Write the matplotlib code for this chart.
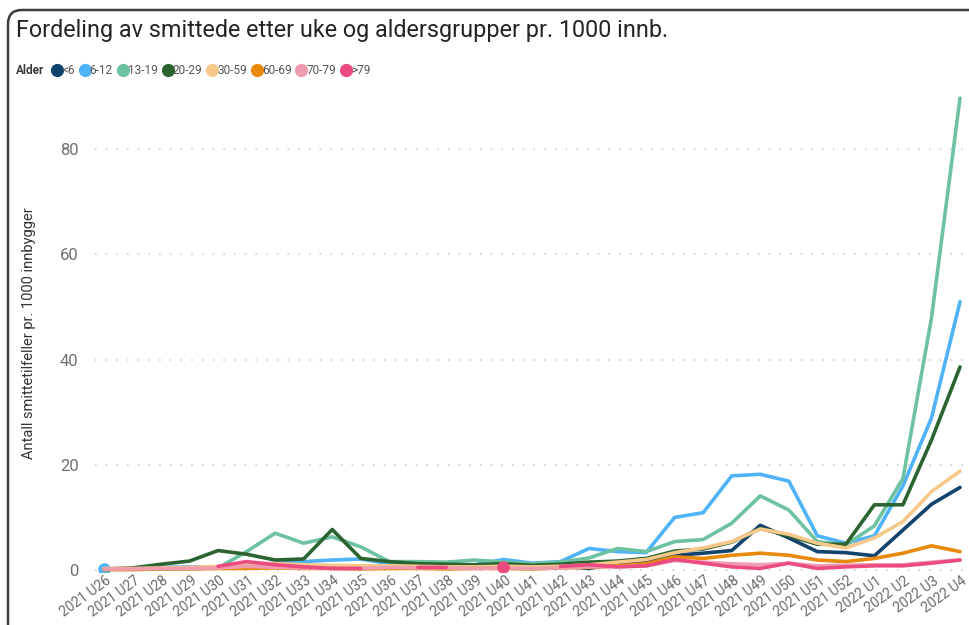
import numpy as np
import matplotlib.pyplot as plt
from matplotlib.patches import FancyBboxPatch
from matplotlib.transforms import ScaledTranslation

plt.rcParams['font.family'] = ['Roboto', 'DejaVu Sans']

weeks = ['2021 U%d' % w for w in range(26, 53)] + ['2022 U%d' % w for w in range(1, 5)]
nan = np.nan

groups = ['<6', '6-12', '13-19', '20-29', '30-59', '60-69', '70-79', '>79']
colors = ['#12436D', '#4FB3F8', '#6DC2A0', '#2B6331', '#F6C88A', '#E8890C', '#EF9BB0', '#EC4B80']

u6 = [0.2, 0.2, 0.3, 0.4, 0.5, 0.8, 0.8, 0.7, 0.6, 0.8, 0.7, 0.6, 0.8, 0.9, 1.0, 0.6,
      0.8, 0.3, 1.2, 1.6, 2.8, 3.2, 3.7, 8.5, 6.1, 3.5, 3.3, 2.7, 7.6, 12.5, 15.7]
a6_12 = [0.2, nan, 0.5, 0.6, 0.6, 0.9, 1.3, 1.6, 1.9, 2.1, 1.2, 1.0, 0.9, 1.0, 2.0, 1.3,
         1.6, 4.1, 3.5, 3.3, 10.0, 10.9, 17.9, 18.2, 16.9, 6.5, 5.1, 6.5, 16.0, 28.9, 51.0]
a13_19 = [0.1, 0.1, 0.2, 0.3, 0.4, 3.5, 7.0, 5.1, 6.3, 4.4, 1.6, 1.6, 1.5, 1.9, 1.5, 1.2,
          1.5, 2.3, 4.1, 3.5, 5.4, 5.8, 8.9, 14.1, 11.4, 5.4, 4.8, 8.4, 17.4, 47.9, 89.7]
a20_29 = [0.2, 0.4, 1.1, 1.7, 3.7, 3.0, 1.9, 2.1, 7.7, 2.2, 1.6, 1.2, 1.1, 1.0, 1.2, 0.9,
          1.1, 1.5, 1.7, 2.2, 3.6, 4.0, 5.3, 7.9, 6.5, 4.9, 4.9, 12.4, 12.4, 24.7, 38.6]
a30_59 = [0.3, 0.3, 0.4, 0.5, 0.7, 1.3, 1.2, 1.0, 0.9, 0.8, 0.8, 0.7, 0.6, 0.6, 0.7, 0.6,
          0.7, 1.0, 1.5, 2.0, 3.3, 4.2, 5.4, 7.8, 6.8, 5.1, 4.2, 6.1, 9.2, 14.9, 18.8]
a60_69 = [0.1, 0.1, 0.2, 0.2, 0.3, 0.3, 0.4, 0.3, 0.3, 0.2, 0.3, 0.3, 0.2, 0.3, 0.3, 0.2,
          0.4, 0.5, 0.8, 1.2, 2.5, 2.2, 2.8, 3.2, 2.8, 1.9, 1.6, 2.2, 3.2, 4.6, 3.5]
a70_79 = [0.2, 0.2, 0.3, 0.3, 0.4, 0.7, 0.5, 0.4, 0.3, 0.3, 0.5, 0.4, 0.4, 0.3, 0.4, 0.3,
          0.4, 0.6, 0.6, 0.8, 1.8, 1.5, 1.2, 1.0, 1.3, 0.8, 0.9, 1.0, 1.0, 1.5, 1.9]
a79 = [nan, nan, nan, nan, 0.7, 1.6, 1.0, 0.6, 0.3, 0.3, nan, 0.5, 0.5, nan, 0.6, nan,
       0.7, 1.0, 0.6, 0.8, 2.0, 1.3, 0.6, 0.3, 1.3, 0.3, 0.6, 0.8, 0.8, 1.3, 1.9]

series = [u6, a6_12, a13_19, a20_29, a30_59, a60_69, a70_79, a79]

fig = plt.figure(figsize=(9.7, 6.25), dpi=100)

# background layer in pixel coordinates
bg = fig.add_axes([0, 0, 1, 1])
bg.set_xlim(0, 970)
bg.set_ylim(625, 0)
bg.axis('off')
bg.add_patch(FancyBboxPatch((8, 10), 1100, 800, boxstyle='round,pad=0,rounding_size=14',
                            fill=False, ec='#3c3c3c', lw=1.8))
bg.text(16, 31, 'Fordeling av smittede etter uke og aldersgrupper pr. 1000 innb.',
        fontsize=16.8, color='#252423', va='center', ha='left')

# legend row
renderer = fig.canvas.get_renderer()
t = bg.text(16, 70, 'Alder', fontsize=8.5, fontweight='bold', color='#3a3a3a', va='center')
cursor = t.get_window_extent(renderer).x1 + 13
for g, c in zip(groups, colors):
    bg.plot(cursor, 70, 'o', ms=8.5, color=c)
    t = bg.text(cursor + 5, 70.5, g, fontsize=8.5, color='#555555', va='center')
    cursor = t.get_window_extent(renderer).x1 + 10

bg.text(29, 333, 'Antall smittetilfeller pr. 1000 innbygger', rotation=90,
        fontsize=10.5, color='#333333', va='center', ha='center')

ax = fig.add_axes([0.0983, 0.0846, 0.9017, 0.7693])
ax.patch.set_alpha(0)
x = np.arange(len(weeks))
for vals, c in zip(series, colors):
    v = np.array(vals, dtype=float)
    ax.plot(x, v, color=c, lw=2.6, solid_capstyle='round')
    # single points with missing neighbours get a dot
    for i in range(len(v)):
        left = np.isnan(v[i - 1]) if i > 0 else True
        right = np.isnan(v[i + 1]) if i < len(v) - 1 else True
        if not np.isnan(v[i]) and left and right:
            ax.plot(x[i], v[i], 'o', ms=8, color=c)

ax.set_xlim(-0.3, 30.35)
ax.set_ylim(-0.4, 91)
ax.set_yticks([0, 20, 40, 60, 80])
ax.yaxis.grid(True, color='#c4c4c4', linestyle=(0, (1, 6)), lw=1.1)
ax.set_axisbelow(True)
for s in ax.spines.values():
    s.set_visible(False)
ax.tick_params(length=0)
ax.tick_params(axis='y', labelsize=12, labelcolor='#707070', pad=12)
ax.set_xticks(x)
ax.set_xticklabels(weeks, rotation=36, ha='right', va='top', rotation_mode='anchor',
                   fontsize=10, color='#6a6a6a')
ax.tick_params(axis='x', pad=1)
shift = ScaledTranslation(1.5 / 100, 0, fig.dpi_scale_trans)
for lab in ax.get_xticklabels():
    lab.set_transform(lab.get_transform() + shift)

fig.savefig('out.png', dpi=100)
